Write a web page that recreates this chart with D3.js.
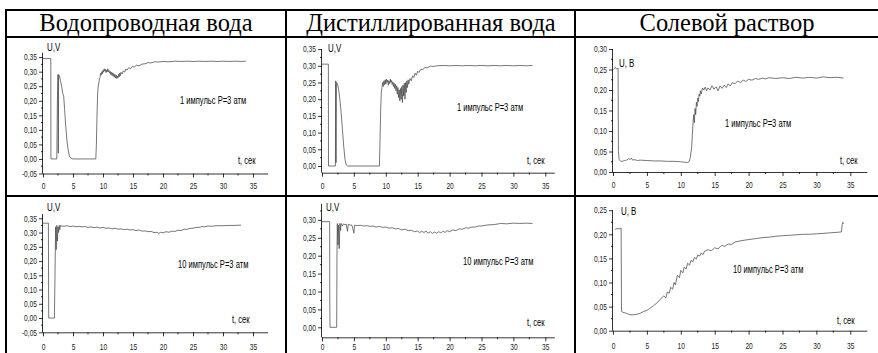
<!DOCTYPE html>
<html><head><meta charset="utf-8">
<script src="https://cdn.jsdelivr.net/npm/d3@7"></script>
<style>body{margin:0;background:#fff}svg{display:block}</style>
</head><body>
<svg id="c" width="878" height="353"></svg>
<script>
// ---------- DATA ----------
const headers = ["Водопроводная вода", "Дистиллированная вода", "Солевой раствор"];
const xTickValues = [0, 5, 10, 15, 20, 25, 30, 35];
const notes = ["1 импульс P=3 атм", "1 импульс P=3 атм", "1 импульс P=3 атм",
               "10 импульс P=3 атм", "10 импульс P=3 атм", "10 импульс P=3 атм"];
const yLabels = ["U,V", "U,V", "U, B", "U,V", "U,V", "U, B"];
const xLabel = "t, сек";

// [t (s), U (V)]
const tap1 = [[0,0.345],[1.3,0.345],[1.32,0],[2.3,0],[2.4,0.2],[2.5,0.29],[2.55,0.02],[2.6,0.29],[2.75,0.285],[2.9,0.27],[3.1,0.25],[3.3,0.225],[3.45,0.215],[3.6,0.17],[3.8,0.11],[4.0,0.06],[4.2,0.03],[4.4,0.01],[4.7,0.002],[5.0,0],[8.8,0],[8.9,0.05],[9.0,0.15],[9.1,0.22],[9.2,0.25],[9.3,0.26],[9.4,0.275],[9.5,0.28],[9.6,0.295],[9.7,0.288],[9.8,0.3],[9.9,0.293],[10.0,0.305],[10.1,0.298],[10.2,0.31],[10.3,0.302],[10.4,0.308],[10.5,0.297],[10.6,0.306],[10.7,0.299],[10.8,0.31],[10.9,0.3],[11.0,0.304],[11.1,0.295],[11.2,0.301],[11.3,0.29],[11.4,0.298],[11.5,0.287],[11.6,0.296],[11.7,0.284],[11.8,0.293],[11.9,0.281],[12.0,0.29],[12.1,0.278],[12.2,0.288],[12.3,0.276],[12.4,0.285],[12.5,0.279],[12.6,0.291],[12.7,0.282],[12.8,0.295],[12.9,0.286],[13.0,0.298],[13.2,0.292],[13.4,0.303],[13.6,0.298],[13.8,0.309],[14.0,0.305],[14.3,0.314],[14.6,0.31],[14.9,0.318],[15.2,0.316],[15.6,0.322],[16.0,0.32],[16.5,0.326],[17.0,0.327],[17.5,0.331],[18.0,0.33],[18.6,0.334],[19.2,0.333],[20,0.335],[21,0.334],[22,0.336],[23,0.335],[24,0.336],[25,0.335],[26,0.336],[27,0.335],[28,0.336],[29,0.335],[30,0.336],[31,0.335],[32,0.336],[33,0.335],[33.8,0.336]];

const dist1 = [[0,0.305],[1.0,0.305],[1.02,0],[2.1,0],[2.15,0.255],[2.2,0.01],[2.25,0.25],[2.4,0.248],[2.6,0.23],[2.8,0.2],[3.0,0.16],[3.2,0.11],[3.4,0.06],[3.6,0.02],[3.8,0.003],[4.0,0],[9.0,0],[9.1,0.08],[9.2,0.17],[9.3,0.22],[9.4,0.235],[9.5,0.25],[9.6,0.238],[9.7,0.255],[9.8,0.243],[9.9,0.258],[10.0,0.245],[10.1,0.26],[10.2,0.25],[10.3,0.257],[10.4,0.242],[10.5,0.255],[10.6,0.247],[10.7,0.26],[10.8,0.25],[10.9,0.256],[11.0,0.244],[11.1,0.252],[11.2,0.238],[11.3,0.248],[11.4,0.232],[11.5,0.245],[11.6,0.225],[11.7,0.24],[11.8,0.215],[11.9,0.235],[12.0,0.205],[12.1,0.228],[12.2,0.195],[12.3,0.232],[12.4,0.2],[12.5,0.238],[12.6,0.19],[12.7,0.242],[12.8,0.21],[12.9,0.248],[13.0,0.2],[13.1,0.25],[13.2,0.22],[13.3,0.255],[13.4,0.235],[13.5,0.258],[13.6,0.245],[13.8,0.262],[14.0,0.255],[14.2,0.27],[14.4,0.265],[14.6,0.278],[14.8,0.272],[15.0,0.284],[15.2,0.28],[15.5,0.29],[15.8,0.288],[16.1,0.295],[16.5,0.294],[17.0,0.299],[17.5,0.298],[18,0.3],[19,0.301],[20,0.3],[21,0.301],[22,0.3],[23,0.301],[24,0.3],[25,0.301],[26,0.3],[27,0.301],[28,0.3],[29,0.301],[30,0.3],[31,0.301],[32,0.3],[33,0.301]];

const salt1 = [[0.1,0.25],[0.3,0.255],[0.5,0.252],[0.75,0.253],[0.8,0.05],[0.9,0.03],[1.1,0.027],[1.4,0.026],[1.7,0.028],[2.0,0.029],[2.3,0.033],[2.5,0.03],[2.7,0.034],[2.9,0.029],[3.2,0.03],[3.6,0.028],[4,0.029],[5,0.028],[6,0.027],[7,0.027],[8,0.026],[9,0.026],[10,0.025],[10.5,0.024],[11,0.023],[11.2,0.025],[11.4,0.035],[11.6,0.06],[11.7,0.09],[11.8,0.12],[11.9,0.14],[12.0,0.12],[12.1,0.155],[12.2,0.14],[12.3,0.17],[12.4,0.16],[12.5,0.18],[12.6,0.172],[12.7,0.19],[12.8,0.185],[12.9,0.198],[13.0,0.19],[13.2,0.205],[13.4,0.2],[13.6,0.207],[13.8,0.198],[14.0,0.205],[14.3,0.2],[14.6,0.21],[14.9,0.202],[15.2,0.208],[15.5,0.198],[15.8,0.21],[16.1,0.204],[16.4,0.212],[16.7,0.206],[17.0,0.215],[17.3,0.21],[17.6,0.218],[18,0.215],[18.4,0.222],[18.8,0.218],[19.2,0.224],[19.6,0.221],[20,0.226],[20.5,0.224],[21,0.228],[21.5,0.226],[22,0.229],[22.5,0.227],[23,0.23],[24,0.228],[25,0.23],[26,0.228],[27,0.231],[28,0.229],[29,0.231],[30,0.229],[31,0.232],[32,0.23],[33,0.231],[34,0.229]];

const tap10 = [[0,0.333],[0.9,0.333],[0.95,0],[1.9,0],[2.0,0.15],[2.1,0.32],[2.2,0.24],[2.3,0.325],[2.4,0.27],[2.5,0.32],[2.6,0.3],[2.7,0.325],[2.8,0.31],[2.9,0.325],[3.0,0.323],[3.5,0.322],[4,0.324],[4.5,0.321],[5,0.323],[5.5,0.32],[6,0.322],[6.5,0.32],[7,0.321],[7.5,0.318],[8,0.32],[8.5,0.317],[9,0.319],[9.5,0.316],[10,0.318],[10.5,0.315],[11,0.316],[11.5,0.313],[12,0.315],[12.5,0.312],[13,0.313],[13.5,0.31],[14,0.312],[14.5,0.309],[15,0.31],[15.5,0.307],[16,0.309],[16.5,0.305],[17,0.306],[17.5,0.303],[18,0.304],[18.5,0.3],[19,0.301],[19.3,0.297],[19.6,0.301],[20,0.299],[20.5,0.303],[21,0.301],[21.5,0.305],[22,0.304],[22.5,0.308],[23,0.307],[23.5,0.312],[24,0.311],[24.5,0.315],[25,0.315],[25.5,0.318],[26,0.318],[26.5,0.321],[27,0.32],[27.5,0.323],[28,0.322],[29,0.324],[30,0.324],[31,0.325],[32,0.325],[33,0.326]];

const dist10 = [[0,0.295],[1.2,0.295],[1.22,0.08],[1.25,0],[2.3,0],[2.35,0.2],[2.4,0.29],[2.5,0.23],[2.6,0.285],[2.7,0.22],[2.8,0.29],[2.9,0.27],[3.0,0.29],[3.2,0.283],[3.4,0.289],[3.6,0.286],[3.8,0.288],[4.0,0.268],[4.1,0.287],[4.4,0.286],[4.7,0.285],[5.0,0.263],[5.1,0.285],[5.5,0.284],[6,0.285],[6.5,0.283],[7,0.284],[7.5,0.282],[8,0.283],[8.5,0.28],[9,0.282],[9.5,0.279],[10,0.28],[10.5,0.277],[11,0.278],[11.5,0.275],[12,0.276],[12.5,0.272],[13,0.274],[13.5,0.27],[14,0.271],[14.5,0.267],[15,0.269],[15.3,0.264],[15.6,0.268],[16,0.265],[16.3,0.269],[16.6,0.263],[17,0.267],[17.3,0.262],[17.6,0.266],[18,0.263],[18.3,0.267],[18.6,0.264],[19,0.268],[19.3,0.265],[19.6,0.27],[20,0.267],[20.5,0.272],[21,0.27],[21.5,0.275],[22,0.274],[22.5,0.278],[23,0.277],[23.5,0.28],[24,0.28],[24.5,0.283],[25,0.283],[26,0.286],[27,0.287],[28,0.29],[29,0.289],[30,0.291],[31,0.29],[32,0.291],[33,0.29]];

const salt10 = [[0.3,0.21],[0.6,0.212],[0.9,0.211],[1.2,0.213],[1.25,0.04],[1.5,0.038],[2.0,0.036],[2.5,0.033],[3,0.033],[3.5,0.034],[4,0.036],[4.5,0.04],[5,0.042],[5.5,0.047],[6,0.052],[6.5,0.058],[7,0.065],[7.3,0.07],[7.5,0.072],[7.8,0.068],[8,0.08],[8.3,0.078],[8.5,0.09],[8.8,0.086],[9,0.1],[9.2,0.095],[9.5,0.115],[9.8,0.11],[10,0.125],[10.3,0.12],[10.5,0.132],[10.8,0.128],[11,0.14],[11.3,0.136],[11.5,0.146],[11.8,0.143],[12,0.152],[12.3,0.149],[12.5,0.157],[12.8,0.155],[13,0.161],[13.3,0.158],[13.5,0.165],[14,0.168],[14.5,0.166],[15,0.172],[15.5,0.17],[16,0.177],[16.5,0.175],[17,0.18],[17.5,0.179],[18,0.184],[19,0.187],[20,0.189],[21,0.191],[22,0.193],[23,0.194],[24,0.196],[25,0.197],[26,0.198],[27,0.199],[28,0.2],[29,0.2],[30,0.201],[31,0.202],[32,0.203],[33,0.204],[33.7,0.205],[33.8,0.22],[33.9,0.225],[34,0.222]];

// ---------- LAYOUT ----------
const panels = [
  {data: tap1,  x0: 43,  xPx: 6.0,  xMax: 37.5, yDom: [-0.05, 0.365], yZeroPx: 158.95, yPer05: 14.55, yTickMin: -0.05, yTickMax: 0.35, xLabY: 186.5, ul: [47, 51], note: [180, 104], tl: [238, 164]},
  {data: dist1, x0: 322, xPx: 6.38, xMax: 36.5, yDom: [-0.02, 0.35],  yZeroPx: 166,    yPer05: 16.7,  yTickMin: 0,     yTickMax: 0.35, xLabY: 186.5, ul: [328, 52], note: [457, 111], tl: [527, 164]},
  {data: salt1, x0: 613, xPx: 6.78, xMax: 37.5, yDom: [0, 0.30],      yZeroPx: 172,    yPer05: 20.5,  yTickMin: 0,     yTickMax: 0.30, xLabY: 185.5, ul: [619, 67], note: [725, 127], tl: [840, 164]},
  {data: tap10, x0: 43,  xPx: 6.0,  xMax: 37.5, yDom: [-0.05, 0.365], yZeroPx: 318.05, yPer05: 14.25, yTickMin: -0.05, yTickMax: 0.35, xLabY: 347,   ul: [47, 211], note: [178, 268], tl: [232, 323]},
  {data: dist10,x0: 322, xPx: 6.38, xMax: 36.5, yDom: [-0.028, 0.345],yZeroPx: 327.3,  yPer05: 17.9,  yTickMin: 0,     yTickMax: 0.30, xLabY: 347,   ul: [326, 211], note: [463, 265], tl: [527, 326]},
  {data: salt10,x0: 613, xPx: 6.78, xMax: 37.5, yDom: [0, 0.25],      yZeroPx: 330.7,  yPer05: 24.1,  yTickMin: 0,     yTickMax: 0.25, xLabY: 346.5, ul: [621, 215], note: [733, 273], tl: [837, 324]}
];

const svg = d3.select("#c");
const sans = "'Liberation Sans',Arial,sans-serif";
const fmt = v => d3.format(".2f")(v).replace(".", ",").replace("−", "-");
function squeeze(sel, k) {
  sel.each(function () {
    const w = this.getComputedTextLength();
    d3.select(this).attr("textLength", w * k).attr("lengthAdjust", "spacingAndGlyphs");
  });
}

// table lines
const tbl = svg.append("g").attr("stroke", "#000").attr("stroke-width", 2);
tbl.append("line").attr("x1", 5).attr("x2", 878).attr("y1", 10).attr("y2", 10);
tbl.append("line").attr("x1", 5).attr("x2", 878).attr("y1", 37).attr("y2", 37);
tbl.append("line").attr("x1", 5).attr("x2", 878).attr("y1", 196).attr("y2", 196);
[6, 286, 575].forEach(x => tbl.append("line").attr("x1", x).attr("x2", x).attr("y1", 9).attr("y2", 353));

const colCenters = [146, 431, 727];
headers.forEach((h, i) => svg.append("text").attr("x", colCenters[i]).attr("y", 31)
  .attr("text-anchor", "middle").attr("font-family", "'Liberation Serif','Times New Roman',serif")
  .attr("font-size", 24.5).text(h));

panels.forEach((p, i) => {
  const g = svg.append("g");
  const x = d3.scaleLinear().domain([0, p.xMax]).range([p.x0, p.x0 + p.xMax * p.xPx]);
  const y = d3.scaleLinear().domain([0, 0.05]).range([p.yZeroPx, p.yZeroPx - p.yPer05]);
  const yBot = y(p.yDom[0]), yTop = y(p.yDom[1]);
  const yTicks = d3.range(Math.round(p.yTickMin * 100), Math.round(p.yTickMax * 100) + 1, 5).map(v => v / 100);
  const yMinor = d3.range(Math.round(p.yTickMin * 1000) + 25, Math.round(p.yDom[1] * 1000), 50).map(v => v / 1000).filter(v => v > p.yDom[0] && v < p.yDom[1]);
  const xMinor = d3.range(2.5, p.xMax, 5);

  // axes
  const yAxis = d3.axisLeft(y).tickValues(yTicks).tickSize(4).tickPadding(2).tickFormat(fmt);
  const ga = g.append("g").attr("transform", `translate(${p.x0},0)`).call(yAxis);
  ga.select(".domain").attr("d", `M-0.5,${yTop}V${yBot}`);
  ga.append("g").selectAll("line").data(yMinor).join("line")
    .attr("x1", -2).attr("x2", 0).attr("y1", d => y(d)).attr("y2", d => y(d)).attr("stroke", "#000");
  const xAxis = d3.axisBottom(x).tickValues(xTickValues).tickSize(4).tickFormat(d3.format("d"));
  const gx = g.append("g").attr("transform", `translate(0,${yBot})`).call(xAxis);
  gx.select(".domain").attr("d", `M${p.x0},0.5H${x(p.xMax)}`);
  gx.selectAll(".tick text").attr("y", p.xLabY - yBot).attr("dy", "0.35em");
  gx.append("g").selectAll("line").data(xMinor).join("line")
    .attr("x1", d => x(d)).attr("x2", d => x(d)).attr("y1", 0).attr("y2", 2).attr("stroke", "#000");
  [ga, gx].forEach(a => {
    a.selectAll("text").attr("font-family", sans).attr("font-size", 8.5).attr("fill", "#222");
    squeeze(a.selectAll("text"), 0.78);
    a.selectAll("line,path").attr("stroke-width", 0.8);
  });

  // data line
  const line = d3.line().x(d => x(d[0])).y(d => y(d[1]));
  g.append("path").datum(p.data).attr("d", line).attr("fill", "none")
    .attr("stroke", "#4a4a4a").attr("stroke-width", 0.75).attr("stroke-linejoin", "round");

  // labels
  const t1 = g.append("text").attr("x", p.ul[0]).attr("y", p.ul[1]).attr("font-family", sans).attr("font-size", 11).text(yLabels[i]);
  const t2 = g.append("text").attr("x", p.note[0]).attr("y", p.note[1]).attr("font-family", sans).attr("font-size", 10.5).text(notes[i]);
  const t3 = g.append("text").attr("x", p.tl[0]).attr("y", p.tl[1]).attr("font-family", sans).attr("font-size", 10.5).text(xLabel);
  [t1, t2, t3].forEach(t => squeeze(t, 0.72));
});
</script>
</body></html>
